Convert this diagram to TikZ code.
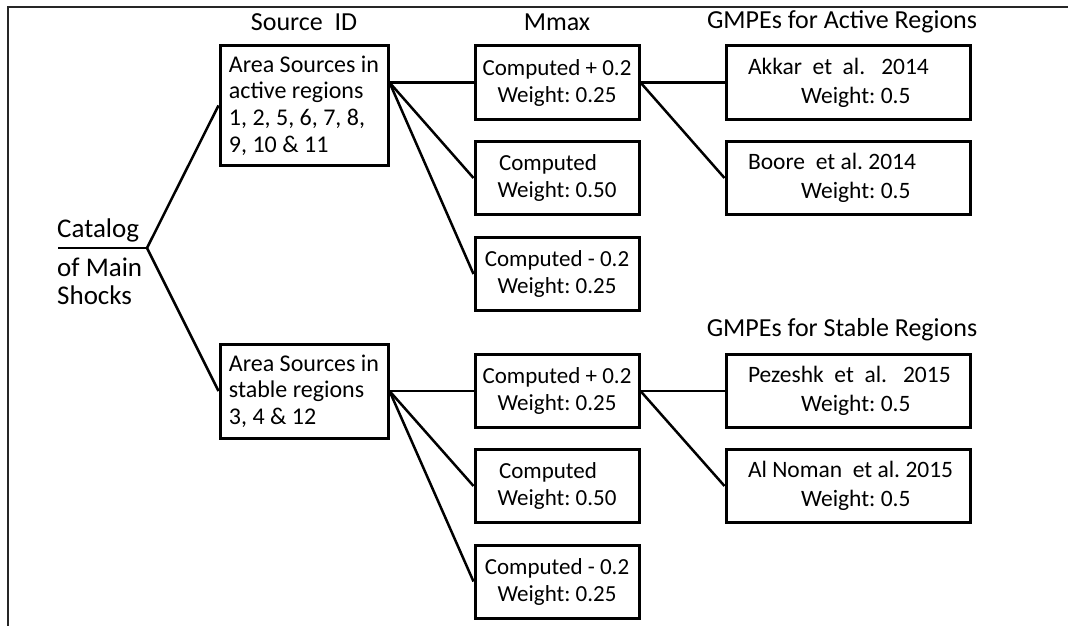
\documentclass[tikz,border=0pt]{standalone}
\usepackage{fontspec}
\setmainfont{Carlito}
\frenchspacing
% first line flush left in a fixed width, second line indented
\newcommand{\gmpetext}[1]{\makebox[200pt][l]{#1}\\\hspace*{53pt}Weight: 0.5}

\begin{document}
\begin{tikzpicture}[x=1pt, y=-1pt,
  box/.style={draw, line width=3pt, inner sep=0pt, font=\fontsize{23}{27}\selectfont},
  srcbox/.style={box, minimum width=168pt, align=left, font=\fontsize{24}{26.7}\selectfont},
  mbox/.style={box, minimum width=164pt, minimum height=73pt, align=center},
  gbox/.style={box, minimum width=244pt, minimum height=73pt, align=left, font=\fontsize{23.5}{29}\selectfont},
  title/.style={font=\fontsize{26}{30}\selectfont},
  branch/.style={line width=2.5pt}]
  \useasboundingbox (0,0) rectangle (1068,626);

  % frame, only the left and top edges show
  \draw[line width=1.5pt, black!85] (8,640) -- (8,7) -- (1080,7);

  % column titles
  \node[title] (tSrc) at (304,22) {Source\ \ ID};
  \node[title] (tMmax) at (557,22) {Mmax};
  \node[title] (tActive) at (842,22) {GMPEs for Active Regions};
  \node[title] (tStable) at (842,330) {GMPEs for Stable Regions};

  % catalog
  \node[font=\fontsize{27}{28}\selectfont, anchor=base west, inner sep=0pt] (cat) at (57,237) {Catalog};
  \node[font=\fontsize{27}{28}\selectfont, anchor=north west, align=left, inner sep=0pt] (catB) at (57,258) {of Main\\Shocks};
  \coordinate (rootL) at (58,248);
  \coordinate (root) at (147,248);

  % source boxes
  \node[srcbox, minimum height=120pt] (srcA) at (304,105.5) {Area Sources in\\active regions\\1, 2, 5, 6, 7, 8,\\9, 10 \& 11};
  \node[srcbox, minimum height=94pt] (srcS) at (304,391) {Area Sources in\\stable regions\\3, 4 \& 12};

  % Mmax boxes
  \node[mbox] (mA1) at (557,82.5) {Computed + 0.2\\Weight: 0.25};
  \node[mbox] (mA2) at (557,178) {Computed\hspace*{18pt}\\Weight: 0.50};
  \node[mbox] (mA3) at (557,274) {Computed - 0.2\\Weight: 0.25};
  \node[mbox] (mS1) at (557,391) {Computed + 0.2\\Weight: 0.25};
  \node[mbox] (mS2) at (557,486) {Computed\hspace*{18pt}\\Weight: 0.50};
  \node[mbox] (mS3) at (557,581.5) {Computed - 0.2\\Weight: 0.25};

  % GMPE boxes
  \node[gbox] (gA1) at (848,82.5) {\gmpetext{Akkar\ \ et\ \ al.\ \ \ 2014}};
  \node[gbox] (gA2) at (848,178) {\gmpetext{Boore\ \ et al. 2014}};
  \node[gbox] (gS1) at (848,391) {\gmpetext{Pezeshk\ \ et\ \ al.\ \ \ 2015}};
  \node[gbox] (gS2) at (848,486) {\gmpetext{Al Noman\ \ et al. 2015}};

  % branches
  \draw[branch] (rootL) -- (root);
  \draw[branch] (srcA.west) -- (root) -- (srcS.west);
  \coordinate (fanA) at (srcA.east |- mA1.west);
  \coordinate (fanS) at (srcS.east |- mS1.west);
  \foreach \m in {mA1,mA2,mA3} \draw[branch] (fanA) -- (\m.west);
  \foreach \m in {mS1,mS2,mS3} \draw[branch] (fanS) -- (\m.west);
  \draw[branch] (mA1.east) -- (gA1.west);
  \draw[branch] (mA1.east) -- (gA2.west);
  \draw[branch] (mS1.east) -- (gS1.west);
  \draw[branch] (mS1.east) -- (gS2.west);
\end{tikzpicture}
\end{document}
